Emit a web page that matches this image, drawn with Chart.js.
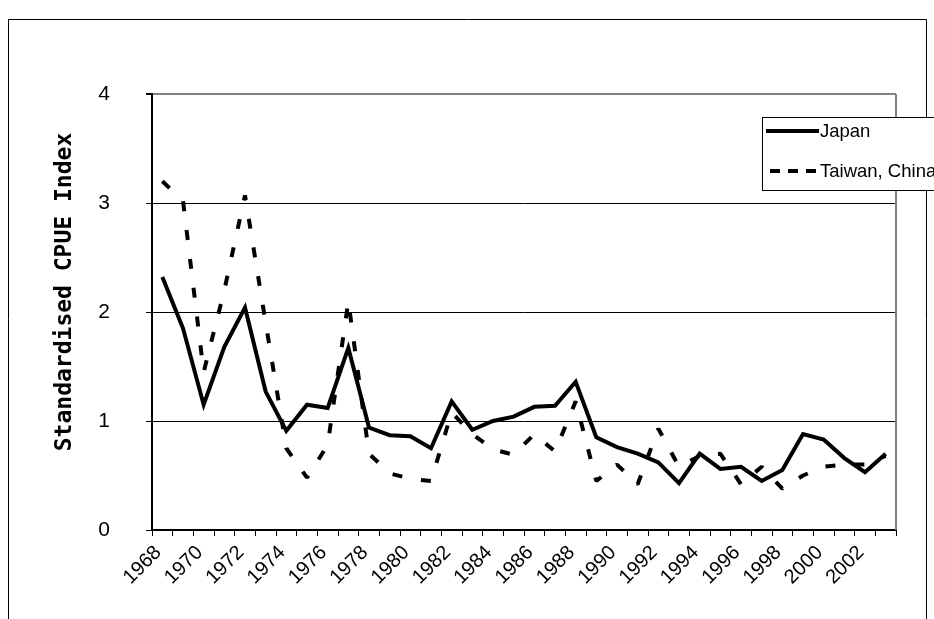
<!DOCTYPE html>
<html><head><meta charset="utf-8">
<script src="https://cdn.jsdelivr.net/npm/chart.js@4/dist/chart.umd.min.js"></script>
<style>html,body{margin:0;padding:0;background:#fff;}canvas{display:block;}</style>
</head><body>
<canvas id="c" width="934" height="619"></canvas>
<script>
// ---- data ----
const years = [1968,1969,1970,1971,1972,1973,1974,1975,1976,1977,1978,1979,
               1980,1981,1982,1983,1984,1985,1986,1987,1988,1989,1990,1991,
               1992,1993,1994,1995,1996,1997,1998,1999,2000,2001,2002,2003];
const japan  = [2.32,1.85,1.15,1.68,2.04,1.27,0.91,1.15,1.12,1.67,0.94,0.87,
                0.86,0.75,1.18,0.92,1.00,1.04,1.13,1.14,1.36,0.85,0.76,0.70,
                0.62,0.43,0.70,0.56,0.58,0.45,0.55,0.88,0.83,0.66,0.53,0.70];
const taiwan = [3.20,3.02,1.45,2.20,3.07,1.90,0.75,0.48,0.78,2.10,0.70,0.52,
                0.47,0.45,1.08,0.88,0.74,0.69,0.88,0.72,1.18,0.45,0.60,0.42,
                0.93,0.58,0.68,0.70,0.42,0.58,0.38,0.50,0.58,0.60,0.60,0.68];
const xTickLabels = ['1968','','1970','','1972','','1974','','1976','','1978','',
                     '1980','','1982','','1984','','1986','','1988','','1990','',
                     '1992','','1994','','1996','','1998','','2000','','2002',''];
const yTicks = [0,1,2,3,4];
const seriesNames = ['Japan','Taiwan, China'];
const yTitle = 'Standardised CPUE Index';

const decor = {
  id:'decor',
  beforeDraw(chart){
    const c = chart.ctx;
    c.save(); c.fillStyle='#fff'; c.fillRect(0,0,chart.width,chart.height); c.restore();
  },
  afterDraw(chart){
    const c = chart.ctx, a = chart.chartArea;
    c.save();
    c.strokeStyle='#808080'; c.lineWidth=2;
    c.beginPath(); c.moveTo(a.right, a.top); c.lineTo(a.right, a.bottom); c.stroke();
    c.strokeStyle='#000'; c.lineWidth=1;
    c.beginPath(); c.moveTo(8.5, 640); c.lineTo(8.5, 19.5); c.lineTo(926.5, 19.5); c.lineTo(926.5, 640); c.stroke();
    c.fillStyle='#000';
    c.font='bold 23px "DejaVu Sans Mono"';
    c.textAlign='center'; c.textBaseline='middle';
    c.translate(65, 292); c.rotate(-Math.PI/2);
    c.fillText(yTitle, 0, 0);
    c.restore();
    // legend
    c.save();
    c.fillStyle='#fff'; c.strokeStyle='#000'; c.lineWidth=1;
    c.fillRect(762.5,117.5,200,73); c.strokeRect(762.5,117.5,200,73);
    const ds = chart.data.datasets;
    const rows = [131, 171];
    ds.forEach((d,i)=>{
      c.strokeStyle = d.borderColor; c.lineWidth = d.borderWidth;
      if (d.borderDash) {
        c.setLineDash([10,8]);
        c.beginPath(); c.moveTo(770, rows[i]); c.lineTo(816, rows[i]); c.stroke();
      } else {
        c.setLineDash([]);
        c.beginPath(); c.moveTo(766, rows[i]); c.lineTo(819, rows[i]); c.stroke();
      }
      c.setLineDash([]);
      c.fillStyle='#000'; c.font='18.5px "Liberation Sans"';
      c.textAlign='left'; c.textBaseline='middle';
      c.fillText(d.label, 820, rows[i]+1);
    });
    c.restore();
  }
};

new Chart(document.getElementById('c'), {
  type:'line',
  data:{
    labels: years.map(String),
    datasets:[
      {label:seriesNames[0], data:japan, borderColor:'#000', borderWidth:4, pointRadius:0,
       tension:0, borderJoinStyle:'miter', fill:false, order:1},
      {label:seriesNames[1], data:taiwan, borderColor:'#000', borderWidth:4, pointRadius:0,
       tension:0, borderDash:[10,19], borderJoinStyle:'bevel', fill:false, order:0}
    ]
  },
  options:{
    responsive:false, animation:false, devicePixelRatio:1,
    layout:{padding:{left:0, right:38, top:94, bottom:0}},
    plugins:{legend:{display:false}, tooltip:{enabled:false}, title:{display:false}},
    scales:{
      x:{
        offset:true,
        grid:{offset:true, drawOnChartArea:false, drawTicks:true, tickLength:6, tickColor:'#000', tickWidth:1},
        border:{display:true, color:'#000', width:2},
        ticks:{autoSkip:false, maxRotation:45, minRotation:45, color:'#000',
               font:{family:'"Liberation Sans", Arial', size:20}, padding:5, labelOffset:-4,
               callback:(v,i)=>xTickLabels[i]},
        afterFit:(s)=>{ s.height = 89; }
      },
      y:{
        min:0, max:4,
        afterBuildTicks:(s)=>{ s.ticks = yTicks.map(v=>({value:v})); },
        grid:{color:(ctx)=> ctx.tick && ctx.tick.value===4 ? '#808080' : '#000',
              lineWidth:(ctx)=> ctx.tick && ctx.tick.value===4 ? 2 : 1,
              drawTicks:true, tickLength:6, tickColor:'#000'},
        border:{display:true, color:'#000', width:2},
        ticks:{color:'#000', font:{family:'"Liberation Sans", Arial', size:21}, padding:36},
        afterFit:(s)=>{ s.width = 152; }
      }
    }
  },
  plugins:[decor]
});
</script>
</body></html>
